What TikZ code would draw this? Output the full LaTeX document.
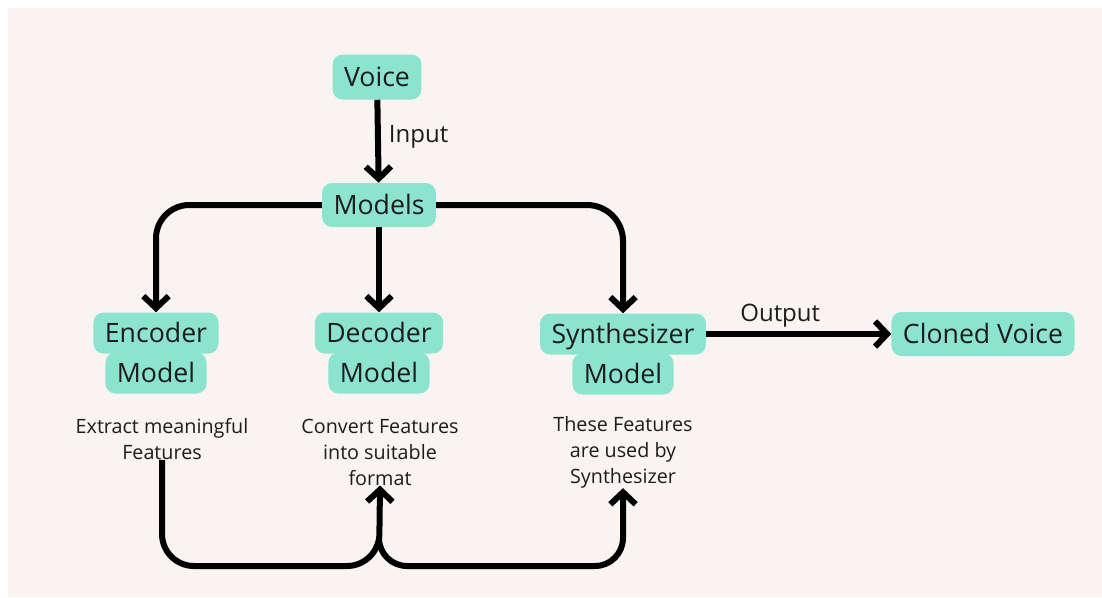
\documentclass[tikz,border=0pt]{standalone}
\usepackage{fontspec}
\setmainfont{Open Sans}
\usetikzlibrary{arrows.meta}

\definecolor{paper}{HTML}{F9F4F1}
\definecolor{mint}{HTML}{8CE4CE}
\definecolor{ink}{HTML}{1C1C1C}

\tikzset{
  box/.style={fill=mint, rounded corners=7.5pt, inner xsep=8.6pt, inner ysep=0pt,
    minimum height=30.75pt, text height=17pt, text depth=3pt,
    text=ink, font=\fontsize{20}{24}\selectfont},
  note/.style={align=center, text=ink, inner sep=0pt, font=\fontsize{14.8}{19.5}\selectfont},
  tag/.style={text=ink, inner sep=0pt, font=\fontsize{18}{22}\selectfont},
  flow/.style={line width=4.5pt, -{Straight Barb[length=9pt,width=19pt]}},
}

\begin{document}
\begin{tikzpicture}[x=0.75pt, y=-0.75pt]
	% page and background
	\useasboundingbox (0,0) rectangle (1102,597);
	\fill[paper] (8,8) rectangle (1102,597);
	% input and hub
	\node[box, minimum height=33.75pt] (voice) at (377,77) {Voice};
	\node[box, minimum height=33pt] (models) at (379,205) {Models};
	% the three models, one box per line
	\node[box] (enctop) at (156,333) {Encoder};
	\node[box] (encbot) at (156,373) {Model};
	\node[box] (dectop) at (379,333) {Decoder};
	\node[box] (decbot) at (379,373) {Model};
	\node[box] (syntop) at (623,334) {Synthesizer};
	\node[box] (synbot) at (623,374) {Model};
	\node[box, minimum height=33pt] (cloned) at (983,334) {Cloned Voice};
	% what each model does
	\node[note] (encnote) at (162,439) {Extract meaningful\\Features};
	\node[note] (decnote) at (380,452) {Convert Features\\into suitable\\format};
	\node[note] (synnote) at (623,452) {These Features\\are used by\\Synthesizer};
	% arrows between the boxes
	\draw[flow] (voice) -- (models) node[tag, right=6pt, pos=0.45] (input) {Input};
	\draw[flow, rounded corners=25pt] (models.west) -| (enctop.north);
	\draw[flow] (models.south) -- (dectop.north);
	\draw[flow, rounded corners=27pt] (models.east) -| (syntop.north);
	\draw[flow] (syntop) -- (cloned) node[tag, pos=0.4, yshift=13.5pt] (output) {Output};
	% feature flow at the bottom
	\coordinate (base) at (0,566);
	\coordinate (split) at (379,538);
	\draw[flow, rounded corners=24pt] (encnote.south) -- (encnote.south |- base) -- (split |- base) -- (decnote.south);
	\draw[flow, rounded corners=21pt] (split) -- (split |- base) -- (synnote.south |- base) -- (synnote.south);
\end{tikzpicture}
\end{document}
